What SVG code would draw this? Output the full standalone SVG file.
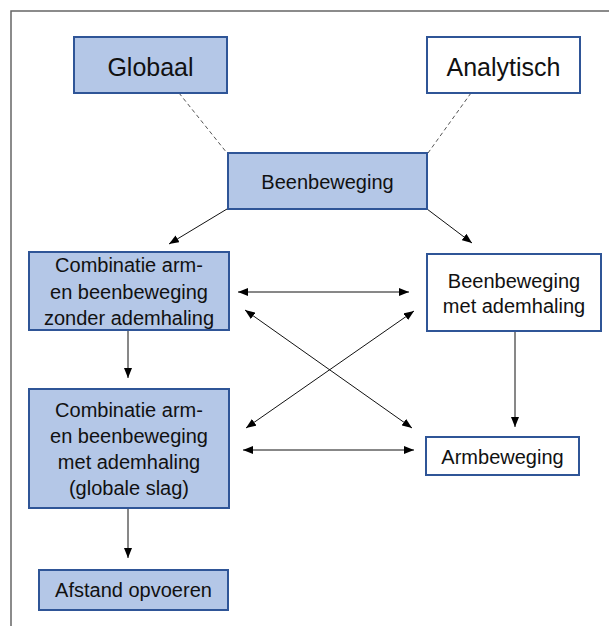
<svg xmlns="http://www.w3.org/2000/svg" width="609" height="626" viewBox="0 0 609 626">
<defs>
<marker id="ah" viewBox="0 0 10 8" refX="10" refY="4" markerWidth="10" markerHeight="8" markerUnits="userSpaceOnUse" orient="auto-start-reverse">
<path d="M0,0 L10,4 L0,8 z" fill="#000"/>
</marker>
<style>
.blue{fill:#b4c7e7;stroke:#2f5597;stroke-width:2}
.white{fill:#fff;stroke:#2f5597;stroke-width:2}
text{font-family:"Liberation Sans",Arial,sans-serif;fill:#111;text-anchor:middle}
.big{font-size:25px}
.t{font-size:20px}
.c{stroke:#111;stroke-width:1;fill:none}
.d{stroke:#555;stroke-width:1;stroke-dasharray:4 3;fill:none}
</style>
</defs>
<rect x="0" y="0" width="609" height="626" fill="#fff"/>
<rect x="11" y="11" width="700" height="700" fill="none" stroke="#666" stroke-width="1.5"/>
<g id="connectors">
<line class="d" x1="179" y1="93" x2="227" y2="153"/>
<line class="d" x1="471" y1="93" x2="428" y2="153"/>
<line class="c" x1="227" y1="209" x2="169" y2="244" marker-end="url(#ah)"/>
<line class="c" x1="427" y1="209" x2="472" y2="243" marker-end="url(#ah)"/>
<line class="c" x1="128" y1="330" x2="128" y2="378" marker-end="url(#ah)"/>
<line class="c" x1="515" y1="331" x2="515" y2="427" marker-end="url(#ah)"/>
<line class="c" x1="128" y1="508" x2="128" y2="558" marker-end="url(#ah)"/>
<line class="c" x1="238" y1="292" x2="409" y2="292" marker-start="url(#ah)" marker-end="url(#ah)"/>
<line class="c" x1="243" y1="450" x2="414" y2="450" marker-start="url(#ah)" marker-end="url(#ah)"/>
<line class="c" x1="245" y1="310" x2="412" y2="428" marker-start="url(#ah)" marker-end="url(#ah)"/>
<line class="c" x1="414" y1="311" x2="246" y2="428" marker-start="url(#ah)" marker-end="url(#ah)"/>
</g>
<g id="globaal">
<rect class="blue" x="74" y="37" width="153" height="56"/>
<text class="big" x="150.5" y="76">Globaal</text>
</g>
<g id="analytisch">
<rect class="white" x="427" y="37" width="153" height="56"/>
<text class="big" x="503.5" y="76">Analytisch</text>
</g>
<g id="beenbeweging">
<rect class="blue" x="228" y="153" width="199" height="56"/>
<text class="t" x="327.5" y="189">Beenbeweging</text>
</g>
<g id="combinatie-zonder">
<rect class="blue" x="29" y="252" width="200" height="78"/>
<text class="t" x="129" y="272">Combinatie arm-</text>
<text class="t" x="129" y="299">en beenbeweging</text>
<text class="t" x="129" y="325">zonder ademhaling</text>
</g>
<g id="beenbeweging-met">
<rect class="white" x="427" y="254" width="174" height="77"/>
<text class="t" x="514" y="288">Beenbeweging</text>
<text class="t" x="514" y="313">met ademhaling</text>
</g>
<g id="combinatie-met">
<rect class="blue" x="29" y="389" width="200" height="119"/>
<text class="t" x="129" y="417">Combinatie arm-</text>
<text class="t" x="129" y="443">en beenbeweging</text>
<text class="t" x="129" y="469">met ademhaling</text>
<text class="t" x="129" y="495">(globale slag)</text>
</g>
<g id="armbeweging">
<rect class="white" x="426" y="437" width="153" height="38"/>
<text class="t" x="502.5" y="464">Armbeweging</text>
</g>
<g id="afstand">
<rect class="blue" x="39" y="570" width="189" height="40"/>
<text class="t" x="133.5" y="597">Afstand opvoeren</text>
</g>
</svg>
